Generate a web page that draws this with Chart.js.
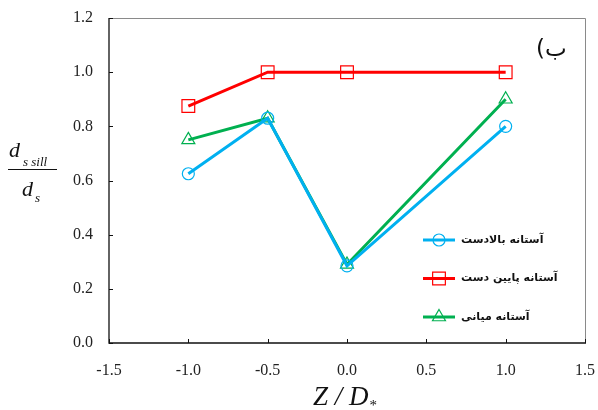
<!DOCTYPE html>
<html>
<head>
<meta charset="utf-8">
<script src="https://cdn.jsdelivr.net/npm/chart.js@4/dist/chart.umd.min.js"></script>
<style>
  html, body { margin: 0; padding: 0; background: #fff; }
  #wrap { width: 598px; height: 410px; }
</style>
</head>
<body>
<div id="wrap"><canvas id="c" width="598" height="410"></canvas></div>
<script>
// ---- data ----
const zValues    = [-1.0, -0.5, 0.0, 1.0];
const upstream   = [0.625, 0.83, 0.285, 0.80];
const downstream = [0.875, 1.0, 1.0, 1.0];
const middle     = [0.75, 0.83, 0.29, 0.90];
const seriesLabels = ['آستانه بالادست', 'آستانه پایین دست', 'آستانه میانی'];
const xTickValues = [-1.5, -1.0, -0.5, 0.0, 0.5, 1.0, 1.5];
const yTickValues = [0.0, 0.2, 0.4, 0.6, 0.8, 1.0, 1.2];
const panelLabel = 'ب)';

const toPts = arr => arr.map((v, i) => ({ x: zValues[i], y: v }));

const colors = ['#00B0F0', '#FF0000', '#00B050'];
const styles = ['circle', 'rect', 'triangle'];
const radii  = [6, 9, 7.5];

const datasets = [upstream, downstream, middle].map((arr, i) => ({
  label: seriesLabels[i],
  data: toPts(arr),
  borderColor: colors[i],
  backgroundColor: 'rgba(0,0,0,0)',
  borderWidth: 3,
  pointStyle: styles[i],
  pointRadius: radii[i],
  pointBorderColor: colors[i],
  pointBackgroundColor: 'rgba(0,0,0,0)',
  pointBorderWidth: 1.2,
  tension: 0,
  fill: false
}));

const decor = {
  id: 'decor',
  afterDraw(chart) {
    const ctx = chart.ctx;
    const a = chart.chartArea;
    const xs = chart.scales.x, ys = chart.scales.y;
    ctx.save();
    // frame top/right grey
    ctx.strokeStyle = '#8a8a8a';
    ctx.lineWidth = 1;
    ctx.beginPath();
    ctx.moveTo(a.left, a.top + 0.5);
    ctx.lineTo(a.right + 0.5, a.top + 0.5);
    ctx.lineTo(a.right + 0.5, a.bottom);
    ctx.stroke();
    // left/bottom black
    ctx.strokeStyle = '#111';
    ctx.lineWidth = 1.3;
    ctx.beginPath();
    ctx.moveTo(a.left, a.top);
    ctx.lineTo(a.left, a.bottom);
    ctx.lineTo(a.right + 1, a.bottom);
    ctx.stroke();
    // inward ticks
    ctx.lineWidth = 1;
    ctx.beginPath();
    yTickValues.forEach(v => {
      const y = Math.round(ys.getPixelForValue(v)) + 0.5;
      ctx.moveTo(a.left, y); ctx.lineTo(a.left + 4, y);
    });
    xTickValues.forEach(v => {
      const x = Math.round(xs.getPixelForValue(v)) + 0.5;
      ctx.moveTo(x, a.bottom); ctx.lineTo(x, a.bottom - 4);
    });
    ctx.stroke();

    // legend inside plot
    chart.data.datasets.forEach((ds, i) => {
      const y = 240 + i * 38.5;
      ctx.strokeStyle = ds.borderColor;
      ctx.lineWidth = 3;
      ctx.beginPath();
      ctx.moveTo(423, y); ctx.lineTo(455, y);
      ctx.stroke();
      ctx.lineWidth = 1.2;
      ctx.beginPath();
      const cx = 439, r = ds.pointRadius;
      if (ds.pointStyle === 'circle') {
        ctx.arc(cx, y, r, 0, Math.PI * 2);
      } else if (ds.pointStyle === 'rect') {
        const s = r * Math.SQRT1_2;
        ctx.rect(cx - s, y - s, 2 * s, 2 * s);
      } else {
        const h = r;
        ctx.moveTo(cx, y - h);
        ctx.lineTo(cx + h * Math.sin(Math.PI / 3), y + h * 0.5);
        ctx.lineTo(cx - h * Math.sin(Math.PI / 3), y + h * 0.5);
        ctx.closePath();
      }
      ctx.stroke();
      ctx.fillStyle = '#111';
      ctx.font = 'bold 11px "DejaVu Sans"';
      ctx.textAlign = 'left';
      ctx.textBaseline = 'middle';
      ctx.fillText('\u202B' + ds.label + '\u202C', 461, y);
    });
    // panel label (RTL embedding so the paren mirrors)
    ctx.fillStyle = '#111';
    ctx.font = '23px "DejaVu Sans"';
    ctx.textAlign = 'left';
    ctx.textBaseline = 'middle';
    ctx.fillText('\u202B' + panelLabel + '\u202C', 536, 50);

    // x-axis title
    ctx.textBaseline = 'alphabetic';
    ctx.textAlign = 'left';
    ctx.font = 'italic 27px "Liberation Serif"';
    const t = 'Z / D';
    ctx.fillText(t, 313, 405);
    const w = ctx.measureText(t).width;
    ctx.font = '15px "Liberation Serif"';
    ctx.fillText('*', 313 + w + 1, 410);

    // y-axis title (fraction)
    ctx.font = 'italic 22px "Liberation Serif"';
    ctx.fillText('d', 9, 157);
    ctx.font = 'italic 13px "Liberation Serif"';
    ctx.fillText('s sill', 23, 166);
    ctx.lineWidth = 1.2;
    ctx.strokeStyle = '#111';
    ctx.beginPath();
    ctx.moveTo(8, 169.5); ctx.lineTo(57, 169.5);
    ctx.stroke();
    ctx.font = 'italic 22px "Liberation Serif"';
    ctx.fillText('d', 22, 196);
    ctx.font = 'italic 13px "Liberation Serif"';
    ctx.fillText('s', 35, 202);
    ctx.restore();
  }
};

new Chart(document.getElementById('c'), {
  type: 'line',
  data: { datasets },
  options: {
    responsive: false,
    animation: false,
    layout: { padding: { left: 0, top: 18, right: 13, bottom: 0 } },
    plugins: { legend: { display: false }, tooltip: { enabled: false } },
    scales: {
      x: {
        type: 'linear',
        min: -1.5, max: 1.5,
        afterBuildTicks: s => { s.ticks = xTickValues.map(v => ({ value: v })); },
        afterFit: s => { s.height = 67; s.paddingLeft = 0; s.paddingRight = 0; },
        grid: { display: false, drawTicks: false, tickLength: 0 },
        border: { display: false },
        ticks: {
          padding: 18,
          color: '#222',
          font: { family: '"Liberation Serif"', size: 16 },
          callback: v => Number(v).toFixed(1),
          maxRotation: 0, autoSkip: false
        }
      },
      y: {
        min: 0, max: 1.2,
        afterBuildTicks: s => { s.ticks = yTickValues.map(v => ({ value: v })); },
        afterFit: s => { s.width = 109; s.paddingTop = 0; s.paddingBottom = 0; },
        grid: { display: false, drawTicks: false, tickLength: 0 },
        border: { display: false },
        ticks: {
          padding: 16,
          color: '#222',
          font: { family: '"Liberation Serif"', size: 16 },
          callback: v => Number(v).toFixed(1)
        }
      }
    }
  },
  plugins: [decor]
});
</script>
</body>
</html>
